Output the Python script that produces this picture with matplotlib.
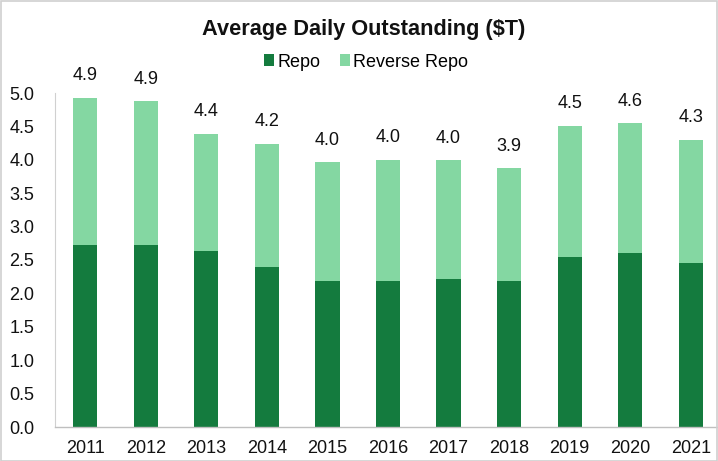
import matplotlib
matplotlib.use("Agg")
import matplotlib.pyplot as plt
from matplotlib.patches import Rectangle

years = ["2011", "2012", "2013", "2014", "2015", "2016", "2017", "2018", "2019", "2020", "2021"]
repo = [2.73, 2.72, 2.64, 2.39, 2.19, 2.18, 2.21, 2.18, 2.54, 2.60, 2.45]
total = [4.93, 4.88, 4.39, 4.24, 3.96, 4.00, 3.99, 3.87, 4.51, 4.55, 4.30]
total_labels = ["4.9", "4.9", "4.4", "4.2", "4.0", "4.0", "4.0", "3.9", "4.5", "4.6", "4.3"]
reverse_repo = [t - r for t, r in zip(total, repo)]
yticks = [0.0, 0.5, 1.0, 1.5, 2.0, 2.5, 3.0, 3.5, 4.0, 4.5, 5.0]

plt.rcParams['font.family'] = ['Liberation Sans', 'DejaVu Sans']
DARK = "#147B3E"
LIGHT = "#84D7A2"

fig = plt.figure(figsize=(7.18, 4.61), dpi=100)
ax = fig.add_axes([55/718, 1-427/461, 1-55/718, (427-93)/461])

x = list(range(len(years)))
ax.bar(x, repo, width=0.4, color=DARK, label="Repo", zorder=2)
ax.bar(x, reverse_repo, width=0.4, bottom=repo, color=LIGHT, label="Reverse Repo", zorder=2)

for xi, t, lab in zip(x, total, total_labels):
    ax.annotate(lab, (xi, t), xytext=(0, 12.5), textcoords="offset points",
                ha="center", va="baseline", fontsize=13, color="#111111")

ax.set_xlim(-0.5, 10.45)
ax.set_ylim(0, 5.0)
ax.set_yticks(yticks)
ax.set_yticklabels([f"{v:.1f}" for v in yticks])
ax.set_xticks(x)
ax.set_xticklabels(years)
ax.tick_params(axis="both", length=0, labelsize=13, colors="#111111")
ax.tick_params(axis="y", pad=15)
ax.tick_params(axis="x", pad=9)
for s in ["top", "right"]:
    ax.spines[s].set_visible(False)
ax.spines["left"].set_color("#D0D0D0")
ax.spines["bottom"].set_color("#BFBFBF")
ax.spines["bottom"].set_linewidth(1.0)

fig.text(0.5 + 5/718, 1-30/461, "Average Daily Outstanding ($T)", ha="center", va="center",
         fontsize=15.7, fontweight="bold", color="#111111")
fig.legend(loc="center", bbox_to_anchor=(0.5 + 7/718, 1-62/461), ncol=2, frameon=False,
           fontsize=13, handlelength=0.55, handleheight=0.65, handletextpad=0.15,
           columnspacing=1.1)

fig.patches.append(Rectangle((0.001, 0.001), 0.997, 0.997, transform=fig.transFigure,
                             fill=False, edgecolor="#D0D0D0", linewidth=1.2))

fig.savefig("out.png", dpi=100)
